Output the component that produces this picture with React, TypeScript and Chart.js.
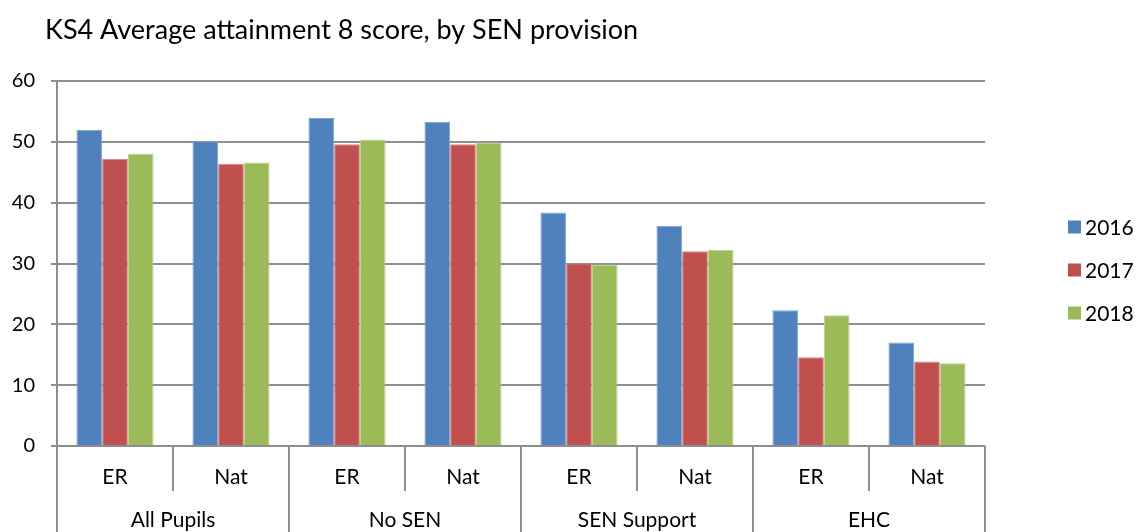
import React, { useEffect, useRef } from "react";
import { Chart, registerables } from "chart.js";

Chart.register(...registerables);

const categories = ["ER", "Nat", "ER", "Nat", "ER", "Nat", "ER", "Nat"];
const groups = ["All Pupils", "No SEN", "SEN Support", "EHC"];
const seriesNames = ["2016", "2017", "2018"];
const series2016 = [52.0, 50.1, 53.9, 53.3, 38.4, 36.2, 22.3, 17.0];
const series2017 = [47.2, 46.4, 49.6, 49.6, 30.0, 32.0, 14.6, 13.9];
const series2018 = [48.1, 46.6, 50.4, 49.9, 29.8, 32.2, 21.5, 13.6];
const yTicks = [0, 10, 20, 30, 40, 50, 60];
const titleText = "KS4 Average attainment 8 score, by SEN provision";

const colors = ["#4F81BD", "#C0504D", "#9BBB59"];
const borders = ["#7FA3D3", "#D98583", "#BBD48A"];
const GRID = "#8E8E8E";
const FONT = "Lato, 'Open Sans', sans-serif";

export default function App() {
  const ref = useRef<HTMLCanvasElement>(null);

  useEffect(() => {
    document.body.style.margin = "0";
    const canvas = ref.current!;
    const allSeries = [series2016, series2017, series2018];

    const overlay = {
      id: "overlay",
      afterDraw(chart: any) {
        const ctx = chart.ctx;
        const area = chart.chartArea;
        const x = chart.scales.x;
        const n = categories.length;
        const catW = (area.right - area.left) / n;
        ctx.save();
        // title
        ctx.fillStyle = "#000";
        ctx.font = `27px ${FONT}`;
        ctx.textAlign = "left";
        ctx.textBaseline = "middle";
        ctx.fillText(titleText, 45, 30);
        // separators
        ctx.strokeStyle = GRID;
        ctx.lineWidth = 2;
        for (let i = 0; i <= n; i++) {
          const xb = Math.round(area.left + i * catW);
          const bottom = i % 2 === 0 ? 532 : area.bottom + 45;
          ctx.beginPath();
          ctx.moveTo(xb, area.bottom);
          ctx.lineTo(xb, bottom);
          ctx.stroke();
        }
        // category labels
        ctx.fillStyle = "#000";
        ctx.font = `21px ${FONT}`;
        ctx.textAlign = "center";
        for (let i = 0; i < n; i++) {
          ctx.fillText(categories[i], x.getPixelForValue(i), area.bottom + 31);
        }
        for (let g = 0; g < groups.length; g++) {
          const cx = (x.getPixelForValue(2 * g) + x.getPixelForValue(2 * g + 1)) / 2;
          ctx.fillText(groups[g], cx, area.bottom + 74);
        }
        // legend
        ctx.textAlign = "left";
        ctx.font = `21px ${FONT}`;
        for (let s = 0; s < seriesNames.length; s++) {
          const cy = 227 + s * 43;
          ctx.fillStyle = colors[s];
          ctx.fillRect(1068, cy - 6.5, 13, 13);
          ctx.fillStyle = "#000";
          ctx.fillText(seriesNames[s], 1085, cy + 1);
        }
        ctx.restore();
      },
    };

    const chart = new Chart(canvas, {
      type: "bar",
      data: {
        labels: categories,
        datasets: allSeries.map((d, i) => ({
          label: seriesNames[i],
          data: d,
          backgroundColor: colors[i],
          borderColor: borders[i],
          borderWidth: { top: 1, left: 1, right: 1, bottom: 0 },
          barPercentage: 1,
          categoryPercentage: 0.665,
        })),
      },
      options: {
        responsive: false,
        animation: false,
        devicePixelRatio: 1,
        layout: { padding: { top: 81, right: 152, bottom: 86, left: 0 } },
        plugins: {
          legend: { display: false },
          title: { display: false },
          tooltip: { enabled: false },
        },
        scales: {
          x: {
            display: false,
          },
          y: {
            min: 0,
            max: 60,
            afterFit(scale: any) {
              scale.width = 57;
            },
            afterBuildTicks(scale: any) {
              scale.ticks = yTicks.map((v) => ({ value: v }));
            },
            grid: {
              color: GRID,
              lineWidth: 2,
              tickLength: 6,
              drawTicks: true,
            },
            border: { display: true, color: GRID, width: 2 },
            ticks: {
              color: "#000",
              font: { family: FONT, size: 20 },
              padding: 16,
            },
          },
        },
      },
      plugins: [overlay],
    });
    return () => chart.destroy();
  }, []);

  return (
    <div style={{ width: 1137, height: 532, position: "relative", background: "#fff" }}>
      <canvas ref={ref} width={1137} height={532} style={{ display: "block" }} />
    </div>
  );
}
